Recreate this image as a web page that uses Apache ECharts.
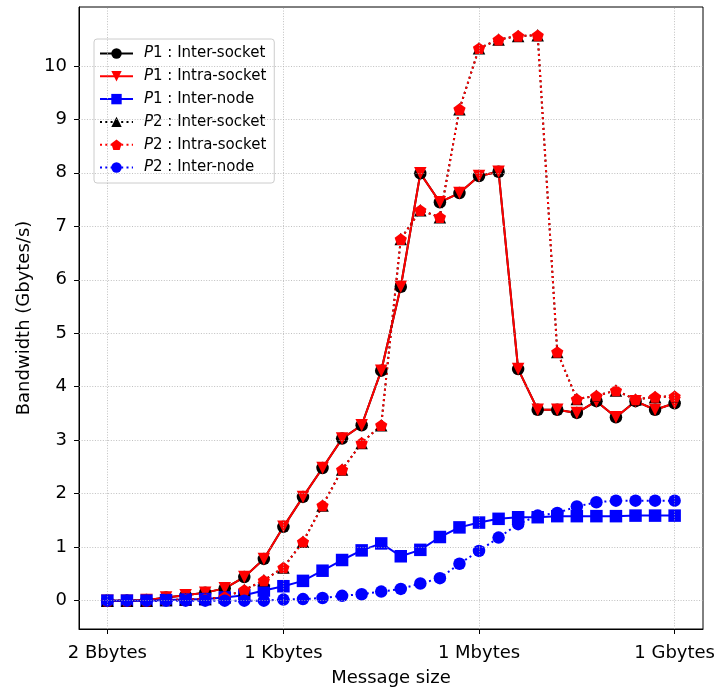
<!DOCTYPE html>
<html><head><meta charset="utf-8">
<script src="https://cdn.jsdelivr.net/npm/echarts@6/dist/echarts.min.js"></script>
<style>html,body{margin:0;padding:0;background:#fff}#c{width:715px;height:690px}</style>
</head><body><div id="c"></div>
<script>
// message size as log2(bytes): 2 bytes = 1 ... 1 Gbytes = 30
const exponents = [1,2,3,4,5,6,7,8,9,10,11,12,13,14,15,16,17,18,19,20,21,22,23,24,25,26,27,28,29,30];
const xTickValues = [1, 10, 20, 30];
const xTickLabels = ['2 Bbytes', '1 Kbytes', '1 Mbytes', '1 Gbytes'];
const yTickValues = [0,1,2,3,4,5,6,7,8,9,10];

const p1InterSocket = [0.00,0.00,0.01,0.06,0.10,0.15,0.23,0.44,0.78,1.38,1.94,2.48,3.03,3.28,4.30,5.87,7.99,7.45,7.62,7.94,8.02,4.33,3.57,3.57,3.51,3.73,3.43,3.73,3.57,3.69];
const p1IntraSocket = [0.00,0.00,0.01,0.06,0.10,0.15,0.23,0.44,0.78,1.38,1.94,2.48,3.03,3.28,4.30,5.87,7.99,7.45,7.62,7.94,8.02,4.33,3.57,3.57,3.51,3.73,3.43,3.73,3.57,3.69];
const p1InterNode = [0.00,0.00,0.00,0.01,0.02,0.03,0.06,0.10,0.19,0.27,0.37,0.56,0.76,0.94,1.07,0.83,0.95,1.19,1.37,1.46,1.53,1.56,1.56,1.58,1.58,1.58,1.58,1.59,1.59,1.59];
const p2InterSocket = [0.00,0.00,0.00,0.01,0.02,0.03,0.07,0.20,0.38,0.62,1.10,1.78,2.45,2.95,3.28,6.76,7.30,7.17,9.19,10.33,10.49,10.56,10.57,4.65,3.77,3.83,3.93,3.76,3.81,3.82];
const p2IntraSocket = [0.00,0.00,0.00,0.01,0.02,0.03,0.07,0.20,0.38,0.62,1.10,1.78,2.45,2.95,3.28,6.76,7.30,7.17,9.19,10.33,10.49,10.56,10.57,4.65,3.77,3.83,3.93,3.76,3.81,3.82];
const p2InterNode = [0.00,0.00,0.00,0.00,0.00,0.00,0.00,0.00,0.00,0.02,0.03,0.05,0.09,0.12,0.17,0.22,0.32,0.42,0.69,0.93,1.18,1.43,1.59,1.64,1.76,1.84,1.87,1.87,1.87,1.87];

const FONT = 'DejaVu Sans';
const pentagon = 'path://M0,-1L0.951,-0.309L0.588,0.809L-0.588,0.809L-0.951,-0.309Z';
const dotted = [2, 3.3];

function pairs(arr) { return exponents.map((e, i) => [e, arr[i]]); }
function mk(name, arr, color, symbol, size, lineType, rotate) {
  return {
    name: name, type: 'line', data: pairs(arr), z: 3,
    symbol: symbol, symbolSize: size, symbolRotate: rotate || 0,
    showAllSymbol: true,
    lineStyle: { color: color, width: 2, type: lineType },
    itemStyle: { color: color },
    emphasis: { disabled: true },
    animation: false
  };
}

// grid lines drawn at the tick values through the axes
const gridSeries = {
  name: 'grid', type: 'line', data: [], z: 1, silent: true,
  markLine: {
    silent: true, symbol: 'none', animation: false,
    label: { show: false },
    emphasis: { disabled: true },
    lineStyle: { color: '#b0b0b0', width: 0.8, type: [1, 1.65] },
    data: xTickValues.map(v => ({ xAxis: v })).concat(yTickValues.map(v => ({ yAxis: v })))
  }
};

const chart = echarts.init(document.getElementById('c'), null, { renderer: 'canvas' });
chart.setOption({
  backgroundColor: '#fff',
  animation: false,
  grid: { left: 79, right: 12, top: 7, bottom: 61, outerBoundsMode: 'none', containLabel: false,
          show: true, borderColor: '#000', borderWidth: 1, backgroundColor: 'transparent' },
  legend: {
    orient: 'vertical', left: 94, top: 39,
    padding: [7, 8, 8, 5],
    itemWidth: 33, itemHeight: 13, itemGap: 7.8,
    backgroundColor: 'rgba(255,255,255,0.8)',
    borderColor: '#cccccc', borderWidth: 1, borderRadius: 3,
    selectedMode: false,
    data: ['P1 : Inter-socket', 'P1 : Intra-socket', 'P1 : Inter-node', 'P2 : Inter-socket', 'P2 : Intra-socket', 'P2 : Inter-node'],
    formatter: function (name) { return '{i|' + name.charAt(0) + '}{n|' + name.slice(1) + '}'; },
    textStyle: {
      fontFamily: FONT, fontSize: 15, color: '#000',
      rich: {
        i: { fontFamily: FONT, fontSize: 15, fontStyle: 'italic', color: '#000', padding: [0, 0, 0, 6] },
        n: { fontFamily: FONT, fontSize: 15, color: '#000' }
      }
    }
  },
  xAxis: {
    type: 'value', min: -0.45, max: 31.45,
    name: 'Message size', nameLocation: 'middle', nameGap: 40,
    nameTextStyle: { fontFamily: FONT, fontSize: 18, color: '#000' },
    axisLine: { show: true, onZero: false, lineStyle: { color: '#000', width: 1 } },
    axisTick: { show: true, length: 5, customValues: xTickValues, lineStyle: { color: '#000', width: 1 } },
    axisLabel: {
      customValues: xTickValues, margin: 15, hideOverlap: false,
      fontFamily: FONT, fontSize: 18, color: '#000',
      formatter: function (v) { const k = xTickValues.indexOf(v); return k >= 0 ? xTickLabels[k] : ''; }
    },
    splitLine: { show: false },
    minorSplitLine: { show: false },
    splitArea: { show: false }
  },
  yAxis: {
    type: 'value', min: -0.53, max: 11.1,
    name: 'Bandwidth (Gbytes/s)', nameLocation: 'middle', nameGap: 45,
    nameTextStyle: { fontFamily: FONT, fontSize: 18, color: '#000' },
    axisLine: { show: true, onZero: false, lineStyle: { color: '#000', width: 1 } },
    axisTick: { show: true, length: 5, customValues: yTickValues, lineStyle: { color: '#000', width: 1 } },
    axisLabel: {
      customValues: yTickValues, margin: 12, hideOverlap: false,
      fontFamily: FONT, fontSize: 18, color: '#000'
    },
    splitLine: { show: false },
    minorSplitLine: { show: false },
    splitArea: { show: false }
  },
  series: [
    gridSeries,
    mk('P1 : Inter-socket', p1InterSocket, '#000000', 'circle', 12.5, 'solid'),
    mk('P1 : Intra-socket', p1IntraSocket, '#ff0000', 'triangle', 12.5, 'solid', 180),
    mk('P1 : Inter-node', p1InterNode, '#0000ff', 'rect', 12.5, 'solid'),
    mk('P2 : Inter-socket', p2InterSocket, '#000000', 'triangle', 12.5, dotted),
    mk('P2 : Intra-socket', p2IntraSocket, '#ff0000', pentagon, [12.2, 11.6], dotted),
    mk('P2 : Inter-node', p2InterNode, '#0000ff', 'circle', 12.5, dotted)
  ]
});
</script>
</body></html>
